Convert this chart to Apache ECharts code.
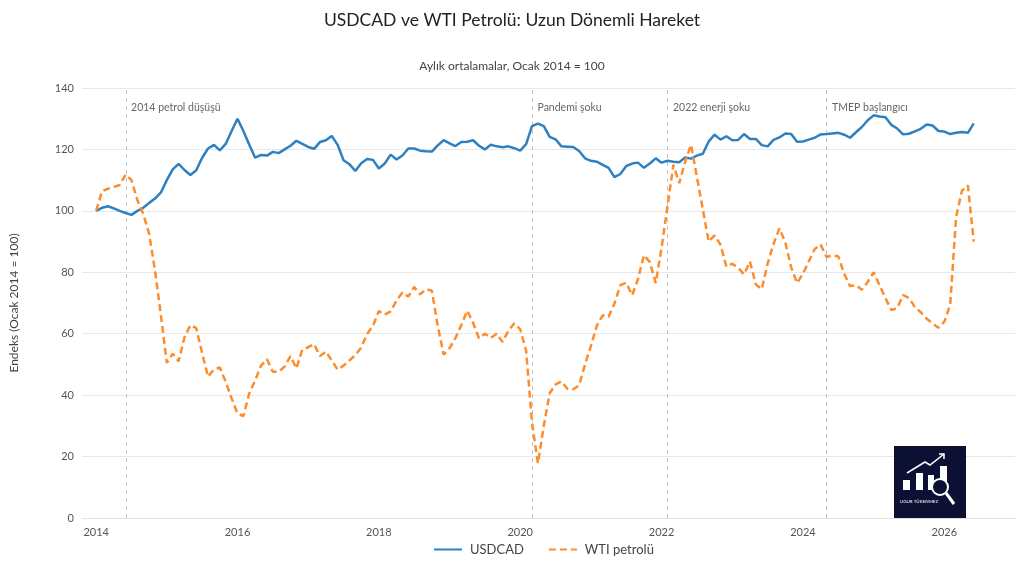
<!DOCTYPE html>
<html>
<head>
<meta charset="utf-8">
<title>USDCAD ve WTI Petrolü</title>
<script src="https://cdn.jsdelivr.net/npm/echarts@6/dist/echarts.min.js"></script>
<style>
  html, body { margin: 0; padding: 0; background: #fff; }
  #chart { width: 1024px; height: 576px; }
</style>
</head>
<body>
<div id="chart"></div>
<script>
// aylik ortalamalar, Ocak 2014 = 100 (Ocak 2014 .. Haziran 2026)
var startYear = 2014
var legendName = ['USDCAD', 'WTI petrolü']

var usdcad = [
  100, 101, 101.5, 100.8, 100, 99.3, 98.7, 100, 101, 102.6, 104, 106,                  // 2014
  110, 113.5, 115.3, 113.3, 111.7, 113.2, 117.3, 120.3, 121.5, 119.7, 121.8, 126,        // 2015
  130, 126, 121.5, 117.3, 118.2, 118, 119.2, 118.8, 120, 121.2, 122.8, 121.8,            // 2016
  120.8, 120.2, 122.4, 123, 124.4, 121.5, 116.5, 115.2, 113, 115.5, 116.9, 116.6,        // 2017
  113.8, 115.4, 118.3, 116.7, 118, 120.3, 120.3, 119.6, 119.4, 119.3, 121.3, 123,        // 2018
  122, 121.1, 122.4, 122.5, 123, 121.2, 120, 121.5, 121, 120.7, 121, 120.4,              // 2019
  119.6, 121.7, 127.6, 128.4, 127.6, 124.1, 123.3, 121, 120.9, 120.8, 119.5, 117.1,      // 2020
  116.3, 116, 115, 114, 111, 112, 114.6, 115.4, 115.7, 114, 115.4, 117.1,                // 2021
  115.7, 116.3, 116, 115.8, 117.4, 117, 118, 118.6, 122.6, 124.8, 123.2, 124.3,          // 2022
  123, 123.1, 125, 123.4, 123.4, 121.4, 121, 123.1, 123.9, 125.2, 125, 122.5,            // 2023
  122.6, 123.2, 123.8, 124.9, 125, 125.2, 125.4, 124.8, 123.8, 125.6, 127.3, 129.5,      // 2024
  131.1, 130.7, 130.5, 128, 126.8, 124.9, 125.1, 125.9, 126.7, 128.1, 127.8, 126,        // 2025
  125.8, 125, 125.4, 125.7, 125.4, 128.5                                                 // 2026
]

var wti = [
  100, 106.4, 107.2, 107.8, 108.4, 111.8, 110, 103.5, 99, 92.5, 80.5, 66,
  50.5, 53.5, 51, 58.8, 62.8, 61.8, 53.6, 46, 48.4, 49, 44.3, 39,
  34, 33.2, 40.6, 44.8, 49.6, 51.7, 47.6, 47.6, 49.3, 52.7, 48.7, 54.8,
  55.6, 56.6, 52.7, 54.2, 51.3, 48.3, 49.6, 51.3, 53, 55.5, 59.9, 62.6,
  67.4, 66.2, 67.3, 70.8, 73.4, 72.1, 75.2, 72.8, 74.5, 74, 62.5, 53.2,
  55.3, 58.6, 62.8, 67.5, 63.5, 58.5, 60, 58.6, 60, 57.3, 61, 63.4,
  61.4, 54.5, 31, 17.8, 30, 40.6, 43.5, 44.5, 42.1, 41.9, 43.2, 50,
  56, 62.6, 66, 65.5, 69.8, 75.8, 76.6, 72.5, 77.8, 85.6, 83.3, 76.5,
  88, 101.5, 115, 109, 116, 121.5, 111, 100.5, 90, 92, 89, 81.8,
  82.8, 81.5, 79.3, 83.5, 76, 74.5, 82.8, 89.2, 94.3, 89.8, 81.6, 76.5,
  79.5, 83.6, 87.6, 89, 85, 85.5, 85.2, 79.5, 75.5, 75.8, 74.3, 76.9,
  80, 75.8, 71.6, 67.7, 68.3, 72.6, 71.6, 68.7, 67, 64.9, 63.4, 61.9,
  63.9, 69.5, 98, 106.6, 108.3, 90
]

// olaylar (dikey kesikli cizgiler)
var eventMonths = ['2014-06', '2020-03', '2022-02', '2024-05']
var eventNames = ['2014 petrol düşüşü', 'Pandemi şoku', '2022 enerji şoku', 'TMEP başlangıcı']

var fontFamily = 'Lato, "Noto Sans", sans-serif'

// 'YYYY-MM' -> ondalik yil
function toYear(s) {
  var p = s.split('-')
  return Number(p[0]) + (Number(p[1]) - 1) / 12
}
function toPairs(arr) {
  return arr.map(function(v, i) { return [startYear + i / 12, v] })
}

var chart = echarts.init(document.getElementById('chart'))

var option = {
  backgroundColor: '#fff',
  animation: false,
  textStyle: { fontFamily: fontFamily },
  title: [{
    text: 'USDCAD ve WTI Petrolü: Uzun Dönemli Hareket',
    left: 'center',
    top: 6,
    textStyle: { fontSize: 17.5, fontWeight: 'normal', color: '#222', fontFamily: fontFamily }
  }, {
    text: 'Aylık ortalamalar, Ocak 2014 = 100',
    left: 'center',
    top: 55,
    textStyle: { fontSize: 12, fontWeight: 'normal', color: '#444', fontFamily: fontFamily }
  }],
  grid: {
    left: 82,
    right: 9,
    top: 88,
    bottom: 58
  },
  legend: {
    data: legendName,
    bottom: 15,
    left: 428,
    itemWidth: 28,
    itemHeight: 10,
    itemGap: 24,
    itemStyle: { opacity: 0 }, // sadece cizgi, nokta yok
    textStyle: { color: '#444', fontSize: 13, fontFamily: fontFamily, padding: [0, 0, 0, 3] }
  },
  xAxis: {
    type: 'value',
    min: 2013.8,
    max: 2027.0,
    splitNumber: 6,
    axisLine: { show: true, lineStyle: { color: '#e3e3e3', width: 1 } },
    axisTick: { show: false },
    splitLine: { show: false },
    axisLabel: {
      color: '#555',
      fontSize: 11,
      margin: 9,
      showMinLabel: false,
      showMaxLabel: false,
      formatter: function(v) { return String(Math.round(v)) }
    }
  },
  yAxis: {
    type: 'value',
    min: 0,
    max: 140,
    interval: 20,
    name: 'Endeks (Ocak 2014 = 100)',
    nameLocation: 'middle',
    nameGap: 62,
    nameTextStyle: { color: '#444', fontSize: 12, fontFamily: fontFamily },
    axisLine: { show: false },
    axisTick: { show: false },
    axisLabel: { color: '#555', fontSize: 11, margin: 8 },
    splitLine: { show: true, lineStyle: { color: '#e8e8e8', width: 1 } }
  },
  series: [{
    name: legendName[0],
    type: 'line',
    data: toPairs(usdcad),
    symbol: 'none',
    smooth: false,
    z: 3,
    lineStyle: { color: '#2f80c0', width: 2.5 },
    itemStyle: { color: '#2f80c0' }
  }, {
    name: legendName[1],
    type: 'line',
    data: toPairs(wti),
    symbol: 'none',
    smooth: false,
    z: 4,
    lineStyle: { color: '#fd8c2c', width: 2.5, type: [7, 4] },
    itemStyle: { color: '#fd8c2c' },
    markLine: { // olay cizgileri
      silent: true,
      symbol: ['none', 'none'],
      label: { show: false },
      lineStyle: { color: '#c4c4c4', width: 1, type: [4, 4] },
      z: 1,
      data: eventMonths.map(function(m) { return { xAxis: toYear(m) } })
    },
    markPoint: { // olay etiketleri
      silent: true,
      symbol: 'circle',
      symbolSize: 1,
      itemStyle: { color: 'rgba(0,0,0,0)' },
      label: {
        show: true,
        position: 'right',
        distance: 5,
        color: '#666',
        fontSize: 10.5,
        fontFamily: fontFamily
      },
      data: eventMonths.map(function(m, i) {
        return { coord: [toYear(m), 133.6], name: eventNames[i], label: { formatter: eventNames[i] } }
      })
    }
  }],
  graphic: [{ // logo
    type: 'group',
    left: 894,
    top: 446,
    z: 100,
    children: [
      { type: 'rect', z: 100, shape: { x: 0, y: 0, width: 72, height: 72 }, style: { fill: '#0c1134' } },
      { type: 'rect', z: 101, shape: { x: 9, y: 34, width: 7, height: 10 }, style: { fill: '#fff' } },
      { type: 'rect', z: 101, shape: { x: 22, y: 27, width: 7, height: 17 }, style: { fill: '#fff' } },
      { type: 'rect', z: 101, shape: { x: 34, y: 29, width: 6, height: 15 }, style: { fill: '#fff' } },
      { type: 'rect', z: 101, shape: { x: 46, y: 20, width: 7, height: 24 }, style: { fill: '#fff' } },
      { type: 'polyline', z: 101, shape: { points: [[13, 27], [31, 16], [36, 19], [50, 8]] }, style: { stroke: '#fff', lineWidth: 1.5, fill: null } },
      { type: 'polyline', z: 101, shape: { points: [[45, 8], [50, 8], [50, 13]] }, style: { stroke: '#fff', lineWidth: 1.5, fill: null } },
      { type: 'circle', z: 102, shape: { cx: 46, cy: 41, r: 8 }, style: { fill: '#0c1134', stroke: '#fff', lineWidth: 2 } },
      { type: 'line', z: 102, shape: { x1: 52, y1: 47, x2: 60, y2: 58 }, style: { stroke: '#fff', lineWidth: 3 } },
      { type: 'text', z: 102, style: { x: 25, y: 56, text: 'UĞUR TÜKENMEZ', fill: '#fff', fontSize: 4.5, align: 'center', verticalAlign: 'middle', fontFamily: fontFamily } }
    ]
  }]
}

chart.setOption(option)
</script>
</body>
</html>
